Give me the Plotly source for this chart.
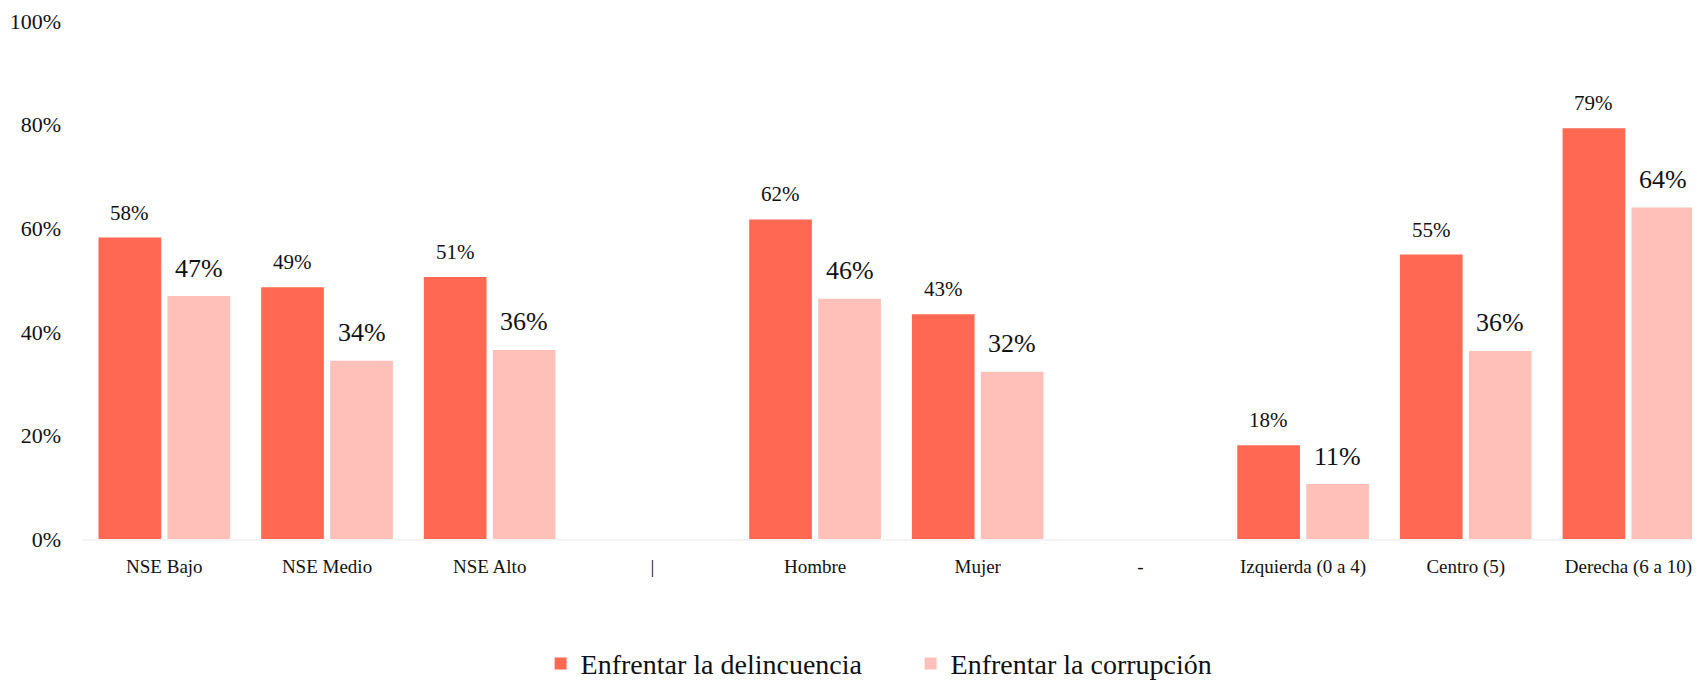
import plotly.graph_objects as go

categories = ["NSE Bajo", "NSE Medio", "NSE Alto", "|", "Hombre", "Mujer", "-",
              "Izquierda (0 a 4)", "Centro (5)", "Derecha (6 a 10)"]
delincuencia = [58.2, 48.6, 50.6, None, 61.7, 43.4, None, 18.1, 54.9, 79.3]
corrupcion = [46.9, 34.4, 36.5, None, 46.4, 32.3, None, 10.6, 36.3, 64.0]
series_names = ["Enfrentar la delincuencia", "Enfrentar la corrupción"]
y_ticks = [0, 20, 40, 60, 80, 100]
y_tick_labels = ["0%", "20%", "40%", "60%", "80%", "100%"]

DARK = "#FF6953"
LIGHT = "#FFC0B9"
FONT = "Liberation Serif, serif"

fig = go.Figure()
fig.add_trace(go.Bar(x=categories, y=delincuencia, name=series_names[0], showlegend=False,
                     marker=dict(color=DARK, line=dict(width=0))))
fig.add_trace(go.Bar(x=categories, y=corrupcion, name=series_names[1], showlegend=False,
                     marker=dict(color=LIGHT, line=dict(width=0))))
# legend-only entries with larger square swatches
for name, col in zip(series_names, [DARK, LIGHT]):
    fig.add_trace(go.Scatter(x=[None], y=[None], mode="markers", name=name,
                             marker=dict(symbol="square", size=17, color=col)))

annotations = []
for i, c in enumerate(categories):
    if delincuencia[i] is not None:
        annotations.append(dict(x=c, y=delincuencia[i], xref="x", yref="y",
                                text=f"{round(delincuencia[i])}%", showarrow=False,
                                xshift=-34.5, yshift=25, yanchor="middle",
                                font=dict(family=FONT, size=21, color="#111111")))
    if corrupcion[i] is not None:
        annotations.append(dict(x=c, y=corrupcion[i], xref="x", yref="y",
                                text=f"{round(corrupcion[i])}%", showarrow=False,
                                xshift=34.5, yshift=28, yanchor="middle",
                                font=dict(family=FONT, size=26, color="#111111")))

# the page body has an 8px margin, so the figure is 8px smaller than the window
fig.update_layout(
    width=1692, height=674,
    margin=dict(l=75, r=0, t=13, b=143, autoexpand=False),
    plot_bgcolor="white", paper_bgcolor="white",
    barmode="group", bargap=0.152, bargroupgap=0.091,
    font=dict(family=FONT, color="#111111"),
    showlegend=True,
    legend=dict(orientation="h", x=0.283, xanchor="left", y=-0.241, yanchor="middle",
                font=dict(family=FONT, size=28, color="#111111"), itemsizing="constant",
                traceorder="normal", entrywidth=325, bgcolor="rgba(0,0,0,0)"),
    annotations=annotations,
    xaxis=dict(categoryorder="array", categoryarray=categories, automargin=False,
               range=[-0.5, 9.44], showgrid=False, zeroline=False,
               showline=True, linecolor="#f3f3f3", linewidth=2,
               ticks="outside", ticklen=9, tickcolor="rgba(0,0,0,0)",
               tickfont=dict(family=FONT, size=19, color="#111111")),
    yaxis=dict(range=[0, 100], tickvals=y_ticks, ticktext=y_tick_labels, automargin=False,
               showgrid=False, zeroline=False, showline=False,
               ticklabelstandoff=21,
               tickfont=dict(family=FONT, size=22, color="#111111")),
)

fig.write_html("out.html")
